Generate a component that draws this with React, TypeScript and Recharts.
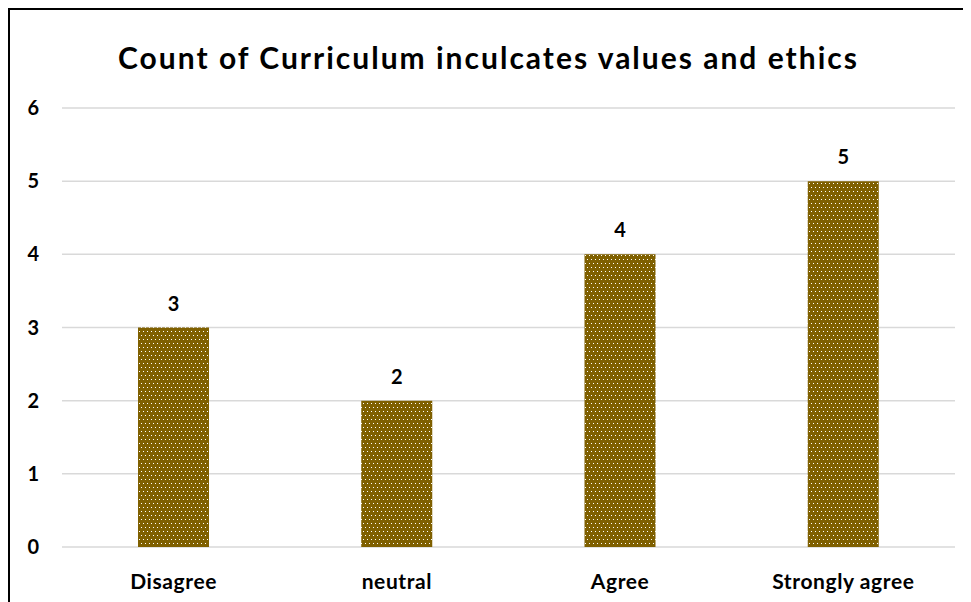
import { BarChart, Bar, XAxis, YAxis, CartesianGrid, LabelList } from 'recharts';

const categories = ['Disagree', 'neutral', 'Agree', 'Strongly agree'];
const counts = [3, 2, 4, 5];
const yTicks = [0, 1, 2, 3, 4, 5, 6];

const data = categories.map((name, i) => ({ name, count: counts[i] }));

const FONT = 'Lato, "Open Sans", sans-serif';

export default function App() {
  return (
    <div
      style={{
        position: 'relative',
        width: 957,
        height: 600,
        borderTop: '2px solid #000',
        borderLeft: '2px solid #000',
        fontFamily: FONT,
        background: '#fff',
      }}
    >
      <div
        style={{
          position: 'absolute',
          top: 29,
          left: 0,
          width: 957,
          textAlign: 'center',
          fontSize: 30,
          letterSpacing: 2,
          fontWeight: 700,
          color: '#000',
        }}
      >
        Count of Curriculum inculcates values and ethics
      </div>
      <BarChart
        width={957}
        height={600}
        data={data}
        margin={{ top: 98, right: 12, bottom: 0, left: 0 }}
      >
        <defs>
          <pattern id="dots" width="4" height="8" patternUnits="userSpaceOnUse">
            <rect width="4" height="8" fill="#7F6000" />
            <rect x="1" y="1" width="1" height="1" fill="#ffffff" />
            <rect x="3" y="5" width="1" height="1" fill="#ffffff" />
          </pattern>
        </defs>
        <CartesianGrid vertical={false} stroke="#d9d9d9" strokeWidth={1.5} />
        <XAxis
          dataKey="name"
          height={63}
          axisLine={false}
          tickLine={false}
          tickMargin={21}
          tick={{ fill: '#000', fontSize: 21, fontWeight: 700, fontFamily: FONT, letterSpacing: 0.6 }}
        />
        <YAxis
          width={52}
          domain={[0, 6]}
          ticks={yTicks}
          axisLine={false}
          tickLine={false}
          tickMargin={17}
          tick={{ fill: '#000', fontSize: 20, fontWeight: 700, fontFamily: FONT }}
        />
        <Bar dataKey="count" fill="url(#dots)" barSize={71} isAnimationActive={false}>
          <LabelList
            dataKey="count"
            position="top"
            offset={17}
            fill="#000"
            fontSize={20}
            fontWeight={700}
            fontFamily={FONT}
          />
        </Bar>
      </BarChart>
    </div>
  );
}
